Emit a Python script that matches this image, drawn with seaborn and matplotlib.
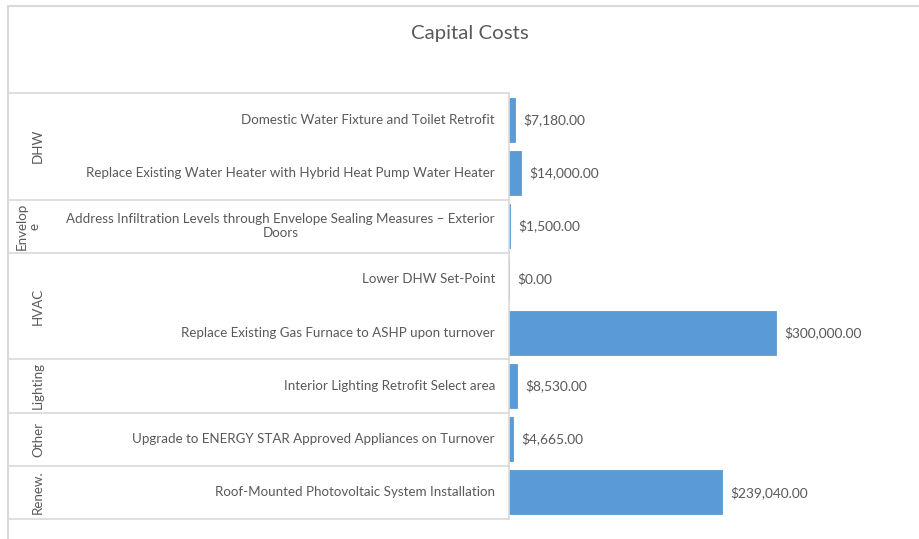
import pandas as pd
import seaborn as sns
import matplotlib.pyplot as plt
from matplotlib.transforms import blended_transform_factory

# Data (top to bottom as shown)
groups = ['DHW', 'DHW', 'Envelop\ne', 'HVAC', 'HVAC', 'Lighting', 'Other', 'Renew.']
measures = [
    'Domestic Water Fixture and Toilet Retrofit',
    'Replace Existing Water Heater with Hybrid Heat Pump Water Heater',
    'Address Infiltration Levels through Envelope Sealing Measures \u2013 Exterior\nDoors',
    'Lower DHW Set-Point',
    'Replace Existing Gas Furnace to ASHP upon turnover',
    'Interior Lighting Retrofit Select area',
    'Upgrade to ENERGY STAR Approved Appliances on Turnover',
    'Roof-Mounted Photovoltaic System Installation',
]
costs = [7180, 14000, 1500, 0, 300000, 8530, 4665, 239040]

df = pd.DataFrame({'group': groups, 'measure': measures, 'cost': costs})

sns.set_style('white')
plt.rcParams['font.family'] = ['Lato', 'DejaVu Sans']
text_col = '#595959'
line_col = '#D9D9D9'
fs = 9.6

fig = plt.figure(figsize=(9.2, 5.39), dpi=100)
ax = fig.add_axes([509 / 920, 1 - 519 / 539, (905 - 509) / 920, (519 - 93) / 539])

sns.barplot(data=df, x='cost', y='measure', orient='h', color='#5B9BD5',
            width=0.83, saturation=1, edgecolor='#5B9BD5', linewidth=0.6, ax=ax)
ax.set_xlim(0, 445000)
ax.set_ylim(len(df) - 0.5, -0.5)
ax.set_xlabel('')
ax.set_ylabel('')
ax.set_xticks([])
ax.set_yticks([])
for s in ['top', 'right', 'bottom']:
    ax.spines[s].set_visible(False)
ax.spines['left'].set_color(line_col)
ax.spines['left'].set_linewidth(1.2)

# value labels
for i, v in enumerate(df['cost']):
    ax.annotate(f'${v:,.2f}', (v, i), xytext=(6, 0), textcoords='offset points',
                va='center', ha='left', fontsize=9.9, color=text_col)

# category labels and group boxes
tr = blended_transform_factory(fig.transFigure, ax.transData)
for i, m in enumerate(df['measure']):
    ax.text(495 / 920, i, m, transform=tr, ha='right', va='center',
            multialignment='center', fontsize=fs, color=text_col)

x0 = 8 / 920
x1 = 509 / 920
bounds = [-0.5]
for i in range(1, len(df)):
    if df['group'][i] != df['group'][i - 1]:
        bounds.append(i - 0.5)
bounds.append(len(df) - 0.5)
for b in bounds:
    ax.plot([x0, x1], [b, b], transform=tr, color=line_col, lw=1.2, clip_on=False)
for a, b in zip(bounds[:-1], bounds[1:]):
    g = df['group'][int(a + 0.5)]
    xc = 28 if '\n' in g else 38
    ax.text(xc / 920, (a + b) / 2, g, transform=tr,
            rotation=90, ha='center', va='center', multialignment='center',
            fontsize=fs, color=text_col, linespacing=1.1)

# chart border
fig.add_artist(plt.Line2D([x0, x0], [0, 1 - 6 / 539], color=line_col, lw=1.5))
fig.add_artist(plt.Line2D([x0, 1], [1 - 6 / 539, 1 - 6 / 539], color=line_col, lw=1.5))

fig.text(470 / 920, 1 - 34 / 539, 'Capital Costs', ha='center', va='center',
         fontsize=14.7, color=text_col)

fig.savefig('out.png', dpi=100)
